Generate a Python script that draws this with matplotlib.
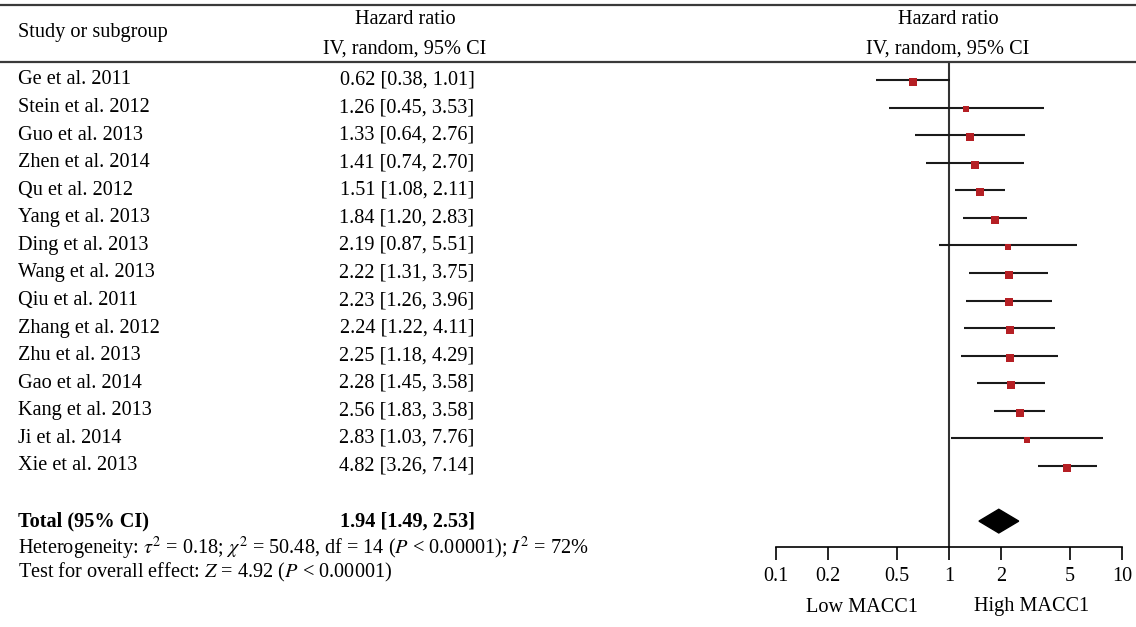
import matplotlib
matplotlib.use("Agg")
import matplotlib.pyplot as plt
import matplotlib.transforms as mtransforms
from matplotlib.lines import Line2D
from matplotlib.patches import Polygon

plt.rcParams['font.family'] = ['Liberation Serif', 'DejaVu Serif']
plt.rcParams['mathtext.fontset'] = 'stix'

# study data
studies = ['Ge et al. 2011', 'Stein et al. 2012', 'Guo et al. 2013', 'Zhen et al. 2014',
           'Qu et al. 2012', 'Yang et al. 2013', 'Ding et al. 2013', 'Wang et al. 2013',
           'Qiu et al. 2011', 'Zhang et al. 2012', 'Zhu et al. 2013', 'Gao et al. 2014',
           'Kang et al. 2013', 'Ji et al. 2014', 'Xie et al. 2013']
hr = [0.62, 1.26, 1.33, 1.41, 1.51, 1.84, 2.19, 2.22, 2.23, 2.24, 2.25, 2.28, 2.56, 2.83, 4.82]
ci_low = [0.38, 0.45, 0.64, 0.74, 1.08, 1.20, 0.87, 1.31, 1.26, 1.22, 1.18, 1.45, 1.83, 1.03, 3.26]
ci_high = [1.01, 3.53, 2.76, 2.70, 2.11, 2.83, 5.51, 3.75, 3.96, 4.11, 4.29, 3.58, 3.58, 7.76, 7.14]
# estimated study weights (square size)
weights = [7.5, 4.6, 6.6, 6.8, 7.6, 7.4, 5.0, 7.2, 7.0, 6.9, 6.8, 7.6, 7.6, 5.2, 7.6]

total_label = 'Total (95% CI)'
total_hr = 1.94
total_low = 1.49
total_high = 2.53

heterogeneity = (r'Heterogeneity: $\tau^2$ = 0.18; $\chi^2$ = 50.48, df = 14 ($P$ < 0.00001); '
                 r'$I^2$ = 72%')
overall = r'Test for overall effect: $Z$ = 4.92 ($P$ < 0.00001)'

tick_values = [0.1, 0.2, 0.5, 1, 2, 5, 10]
tick_labels = ['0.1', '0.2', '0.5', '1', '2', '5', '10']

W, H = 1136, 627
FS = 14.6


def fx(px):
    return px / W


def fy(py):
    return 1 - py / H


fig = plt.figure(figsize=(W / 100, H / 100), dpi=100)

# forest plot axes (row height ~27.6 px, first row at y=80 px)
row_h = 27.57
top_px, bottom_px = 63, 547
ax = fig.add_axes([fx(776), fy(bottom_px), fx(1122) - fx(776), fy(top_px) - fy(bottom_px)])
ax.set_xscale('log')
ax.set_xlim(0.1, 10)
ax.set_ylim((bottom_px - 80) / row_h, (top_px - 80) / row_h)

for s in ['top', 'left', 'right']:
    ax.spines[s].set_visible(False)
ax.spines['bottom'].set_linewidth(1.2)
ax.set_yticks([])
ax.set_xticks(tick_values)
ax.set_xticklabels(tick_labels)
ax.xaxis.set_minor_locator(matplotlib.ticker.NullLocator())
ax.tick_params(axis='x', length=9.5, width=1.2, pad=5, labelsize=14.5)

# line of no effect
ax.axvline(1, color='#333333', lw=1.5)

red = '#b51f24'
for i in range(len(studies)):
    ax.plot([ci_low[i], ci_high[i]], [i, i], color='#1a1a1a', lw=1.5, solid_capstyle='butt')
    ax.plot(hr[i], i + 0.07, marker='s', color=red, markersize=2.0 * weights[i] ** 0.5,
            markeredgewidth=0)

# pooled diamond
total_row = len(studies) + 1
dh = 0.43
diamond = Polygon([(total_low, total_row), (total_hr, total_row - dh),
                   (total_high, total_row), (total_hr, total_row + dh)],
                  closed=True, facecolor='black', edgecolor='black')
ax.add_patch(diamond)

# left table text
row_trans = mtransforms.blended_transform_factory(fig.transFigure, ax.transData)
for i in range(len(studies)):
    fig.text(fx(18), i, studies[i], transform=row_trans, fontsize=FS, va='center', ha='left')
    fig.text(fx(407), i, f'{hr[i]:.2f} [{ci_low[i]:.2f}, {ci_high[i]:.2f}]',
             transform=row_trans, fontsize=FS, va='center', ha='center')

fig.text(fx(18), total_row, total_label, transform=row_trans, fontsize=FS,
         va='center', ha='left', fontweight='bold')
fig.text(fx(407), total_row, f'{total_hr:.2f} [{total_low:.2f}, {total_high:.2f}]',
         transform=row_trans, fontsize=FS, va='center', ha='center', fontweight='bold')

fig.text(fx(18), fy(548), heterogeneity, fontsize=FS, va='center', ha='left')
fig.text(fx(18), fy(572), overall, fontsize=FS, va='center', ha='left')

# header
fig.add_artist(Line2D([0, 1], [fy(4.5), fy(4.5)], color='#3a3a3a', lw=1.6))
fig.add_artist(Line2D([0, 1], [fy(62), fy(62)], color='#3a3a3a', lw=1.6))
fig.text(fx(18), fy(33), 'Study or subgroup', fontsize=FS, va='center', ha='left')
fig.text(fx(405), fy(20), 'Hazard ratio', fontsize=FS, va='center', ha='center')
fig.text(fx(405), fy(49), 'IV, random, 95% CI', fontsize=FS, va='center', ha='center')
fig.text(fx(948), fy(20), 'Hazard ratio', fontsize=FS, va='center', ha='center')
fig.text(fx(948), fy(49), 'IV, random, 95% CI', fontsize=FS, va='center', ha='center')

# favours labels
fig.text(fx(862), fy(607), 'Low MACC1', fontsize=FS, va='center', ha='center')
fig.text(fx(1032), fy(607), 'High MACC1', fontsize=FS, va='center', ha='center')

fig.savefig('out.png', dpi=100)
